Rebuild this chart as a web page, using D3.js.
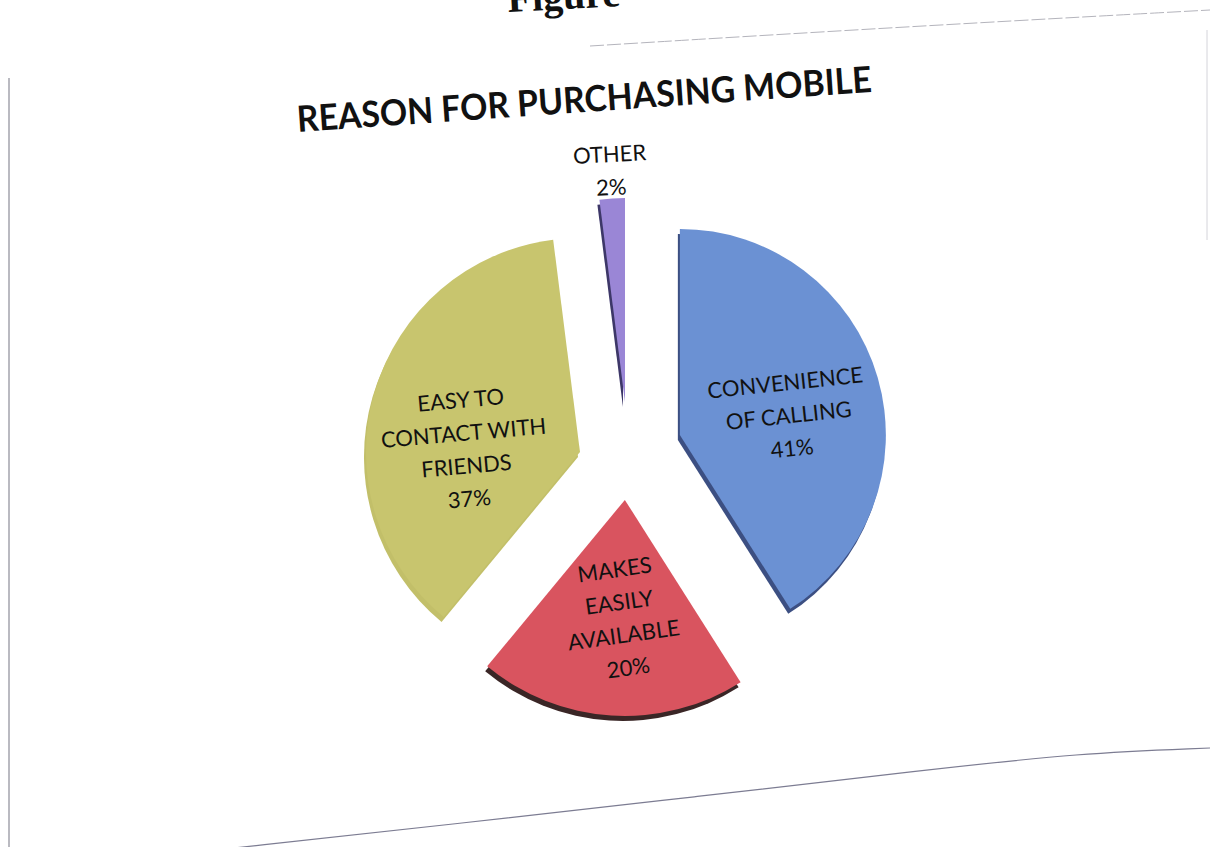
<!DOCTYPE html>
<html>
<head>
<meta charset="utf-8">
<script src="https://cdn.jsdelivr.net/npm/d3@7"></script>
<style>
  html, body { margin: 0; padding: 0; background: #ffffff; }
  svg { display: block; }
</style>
</head>
<body>
<svg id="chart" width="1210" height="847"></svg>
<script>
// Survey result: reasons given for purchasing a mobile phone
const categories = ["CONVENIENCE OF CALLING", "MAKES EASILY AVAILABLE", "EASY TO CONTACT WITH FRIENDS", "OTHER"];
const labelLines = [["CONVENIENCE", "OF CALLING"], ["MAKES", "EASILY", "AVAILABLE"], ["EASY TO", "CONTACT WITH", "FRIENDS"], ["OTHER"]];
const values = [41, 20, 37, 2];
const chartTitle = "REASON FOR PURCHASING MOBILE";

// Styling per slice
const fills = ["#6b91d3", "#d9545f", "#c8c56e", "#9a86d6"];
const sideFills = ["#3c4f82", "#3a2626", "#c2bf69", "#3d3768"];
const explode = [54, 50, 50, 48];
const perspectiveDrop = [0, 0, 16, 0];
const radii = [206, 216, 214, 204];
const labelNudge = [[0, 12], [4, 0], [-2, 30], [0, 0]];
const labelTilt = [-6, -8, -5, -3];

const svg = d3.select("#chart");
const W = 1210, H = 847;
const cx = 628, cy = 450;

// Scanned page frame
const frame = svg.append("g").attr("fill", "none");
frame.append("line").attr("x1", 9).attr("y1", 78).attr("x2", 9).attr("y2", H)
  .attr("stroke", "#8c8c98").attr("stroke-width", 1.2);
frame.append("path")
  .attr("d", d3.line().curve(d3.curveBasis)([[590, 46], [900, 27], [1210, 10]]))
  .attr("stroke", "#b4b4bc").attr("stroke-width", 1).attr("stroke-dasharray", "14 3");
frame.append("line").attr("x1", 1207).attr("y1", 30).attr("x2", 1207).attr("y2", 240)
  .attr("stroke", "#d4d4da").attr("stroke-width", 1);
frame.append("path")
  .attr("d", d3.line().curve(d3.curveBasis)([[225, 849], [463, 823], [694, 797], [926, 770], [1080, 753], [1210, 748]]))
  .attr("stroke", "#7c7c92").attr("stroke-width", 1.2);

// Page heading, running off the top edge of the page
svg.append("text")
  .attr("transform", "translate(508,12) rotate(-3)")
  .attr("font-family", "'Liberation Serif', 'DejaVu Serif', serif")
  .attr("font-weight", "bold").attr("font-size", 40).attr("fill", "#111")
  .text("Figure");

// Chart title
svg.append("text")
  .attr("transform", "translate(585,112) rotate(-4)")
  .attr("text-anchor", "middle")
  .attr("font-family", "Lato, 'Open Sans', sans-serif")
  .attr("font-weight", "bold").attr("font-size", 36).attr("fill", "#111")
  .attr("textLength", 576).attr("lengthAdjust", "spacingAndGlyphs")
  .text(chartTitle);

const pie = d3.pie().sort(null).value(d => d).startAngle(0).endAngle(2 * Math.PI);
const arcs = pie(values);

const slices = svg.append("g").attr("transform", `translate(${cx},${cy})`);

arcs.forEach((a, i) => {
  const mid = (a.startAngle + a.endAngle) / 2;
  const ox = Math.sin(mid) * explode[i];
  const oy = -Math.cos(mid) * explode[i] + perspectiveDrop[i];
  const arc = d3.arc().innerRadius(0).outerRadius(radii[i]);
  const g = slices.append("g").attr("transform", `translate(${ox},${oy})`);
  // side face (depth) of the slice
  g.append("path").attr("d", arc(a)).attr("fill", sideFills[i])
    .attr("transform", "translate(-2,5)");
  // top face
  g.append("path").attr("d", arc(a)).attr("fill", fills[i]);

  const pct = Math.round(values[i] / d3.sum(values) * 100) + "%";
  const lines = labelLines[i].concat([pct]);
  let lx, ly;
  if (i === 3) {
    // small slice: label placed outside above it
    const outer = d3.arc().innerRadius(radii[i] + 28).outerRadius(radii[i] + 28);
    [lx, ly] = outer.centroid(a);
  } else {
    const inner = d3.arc().innerRadius(radii[i] * 0.55).outerRadius(radii[i] * 0.55);
    [lx, ly] = inner.centroid(a);
  }
  lx += labelNudge[i][0];
  ly += labelNudge[i][1];
  const lh = 33;
  const t = g.append("text")
    .attr("transform", `translate(${lx},${ly}) rotate(${labelTilt[i]})`)
    .attr("text-anchor", "middle")
    .attr("font-family", "Lato, 'Open Sans', sans-serif")
    .attr("font-size", 22).attr("fill", "#111");
  lines.forEach((s, k) => {
    t.append("tspan").attr("x", 0)
      .attr("y", (k - (lines.length - 1) / 2) * lh + 8)
      .text(s);
  });
});
</script>
</body>
</html>
